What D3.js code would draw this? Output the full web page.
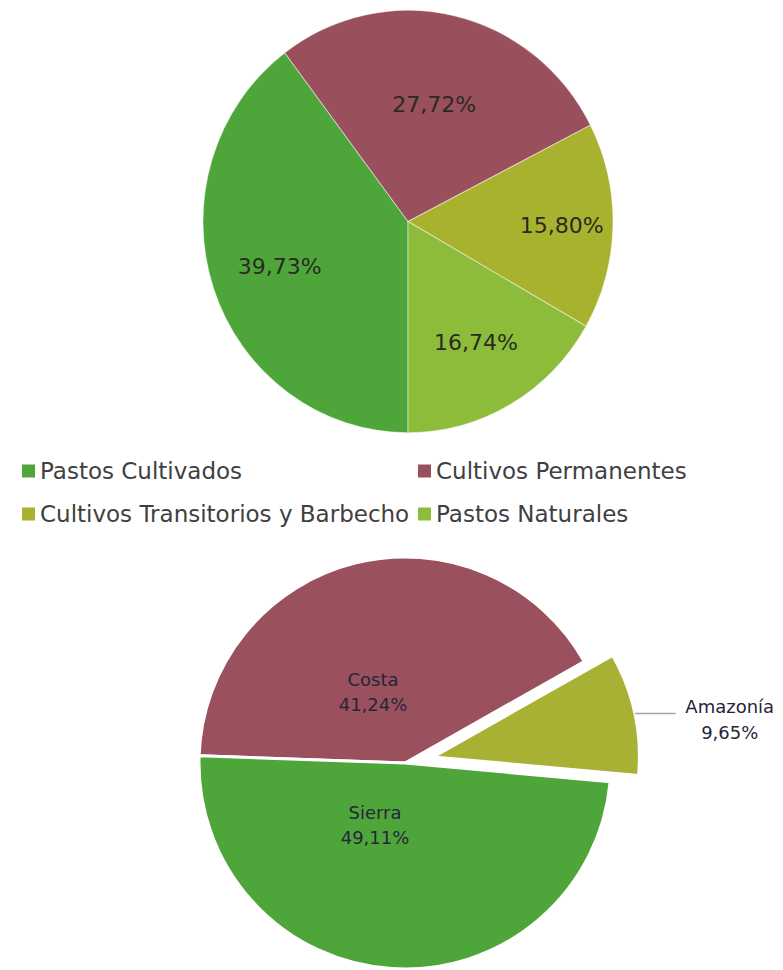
<!DOCTYPE html>
<html>
<head>
<meta charset="utf-8">
<script src="https://cdn.jsdelivr.net/npm/d3@7"></script>
<style>
  html, body { margin: 0; padding: 0; background: #ffffff; }
  svg { display: block; font-family: "DejaVu Sans", "Noto Sans", sans-serif; }
</style>
</head>
<body>
<svg id="chart" width="783" height="970"></svg>
<script>
// Land use shares
const landUseCategories = ["Pastos Cultivados", "Cultivos Permanentes", "Cultivos Transitorios y Barbecho", "Pastos Naturales"];
const landUseValues = [39.73, 27.72, 15.80, 16.74];
const landUseColors = ["#4ea63a", "#9a4f5c", "#a9b22f", "#8cbc3a"];

// Regional shares
const regionNames = ["Costa", "Amazonía", "Sierra"];
const regionValues = [41.24, 9.65, 49.11];
const regionColors = ["#9b505d", "#a8b134", "#4ea53a"];

const locale = d3.formatLocale({ decimal: ",", thousands: ".", grouping: [3], currency: ["", "€"] });
const fmt = v => locale.format(".2f")(v) + "%";
const deg = d => d * Math.PI / 180;

const svg = d3.select("#chart");

// ---------- Land use pie ----------
const topCx = 408, topCy = 221.5, topR = 205, topSy = 1.03;
const topPie = d3.pie().sort(null).value(d => d.value)
  .startAngle(Math.PI).endAngle(3 * Math.PI);
const topArcs = topPie(landUseCategories.map((c, i) => ({ name: c, value: landUseValues[i], color: landUseColors[i] })));
const topArc = d3.arc().innerRadius(0).outerRadius(topR);

svg.append("g")
  .attr("transform", `translate(${topCx},${topCy}) scale(1,${topSy})`)
  .selectAll("path").data(topArcs).join("path")
  .attr("d", topArc)
  .attr("fill", d => d.data.color)
  .attr("stroke", "rgba(255,255,255,0.45)")
  .attr("stroke-width", 1);

// label radius as fraction of the pie radius, per slice
const topLabelFrac = [0.66, 0.57, 0.75, 0.66];
const topLabelG = svg.append("g").attr("transform", `translate(${topCx},${topCy})`);
topLabelG.selectAll("text").data(topArcs).join("text")
  .attr("transform", (d, i) => {
    const a = (d.startAngle + d.endAngle) / 2;
    const rr = topR * topLabelFrac[i];
    return `translate(${rr * Math.sin(a)},${-rr * Math.cos(a) * topSy})`;
  })
  .attr("text-anchor", "middle")
  .attr("dy", "0.36em")
  .attr("font-size", 22)
  .attr("fill", "#2a2a22")
  .text(d => fmt(d.data.value));

// ---------- Legend ----------
const legendCols = [22, 418];
const legendRows = [471, 514];
const legend = svg.append("g");
landUseCategories.forEach((name, i) => {
  const x = legendCols[i % 2], y = legendRows[Math.floor(i / 2)];
  const item = legend.append("g").attr("transform", `translate(${x},${y})`);
  item.append("rect").attr("x", 0).attr("y", -6.5).attr("width", 13).attr("height", 13)
    .attr("fill", landUseColors[i]);
  item.append("text").attr("x", 18).attr("y", 8).attr("font-size", 23)
    .attr("fill", "#404040").text(name);
});

// ---------- Regional pie ----------
const botCx = 405, botCy = 763, botR = 206;
const botStart = deg(272);
const botPie = d3.pie().sort(null).value(d => d.value)
  .startAngle(botStart).endAngle(botStart + 2 * Math.PI);
const botArcs = botPie(regionNames.map((n, i) => ({ name: n, value: regionValues[i], color: regionColors[i] })));
const botArc = d3.arc().innerRadius(0).outerRadius(botR);
const explode = { "Amazonía": 29 };
const offset = d => {
  const e = explode[d.data.name] || 0;
  const a = (d.startAngle + d.endAngle) / 2;
  return [e * Math.sin(a), -e * Math.cos(a)];
};

const botG = svg.append("g").attr("transform", `translate(${botCx},${botCy})`);
botG.selectAll("path").data(botArcs).join("path")
  .attr("transform", d => `translate(${offset(d)})`)
  .attr("d", botArc)
  .attr("fill", d => d.data.color)
  .attr("stroke", "#ffffff")
  .attr("stroke-width", 3)
  .attr("stroke-linejoin", "round");

// inside labels (Costa, Sierra)
const insideLabelShift = { "Costa": [-32, -71], "Sierra": [-30, 62] };
botArcs.filter(d => insideLabelShift[d.data.name]).forEach(d => {
  const [dx, dy] = insideLabelShift[d.data.name];
  const t = botG.append("text").attr("text-anchor", "middle")
    .attr("font-size", 18).attr("fill", "#26263a")
    .attr("transform", `translate(${dx},${dy})`);
  t.append("tspan").attr("x", 0).attr("y", -6).text(d.data.name);
  t.append("tspan").attr("x", 0).attr("y", 19).text(fmt(d.data.value));
});

// outside label with leader line (Amazonía)
botArcs.filter(d => d.data.name === "Amazonía").forEach(d => {
  const [ox, oy] = offset(d);
  const a = (d.startAngle + d.endAngle) / 2;
  const px = ox + botR * Math.sin(a), py = oy - botR * Math.cos(a);
  const lineEnd = px + 41;
  botG.append("line")
    .attr("x1", px).attr("y1", py).attr("x2", lineEnd).attr("y2", py)
    .attr("stroke", "#a6a6a6").attr("stroke-width", 1.5);
  const t = botG.append("text").attr("text-anchor", "middle")
    .attr("font-size", 18).attr("fill", "#26263a");
  t.append("tspan").attr("x", lineEnd + 54).attr("y", py + 0).text(d.data.name);
  t.append("tspan").attr("x", lineEnd + 54).attr("y", py + 26).text(fmt(d.data.value));
});
</script>
</body>
</html>
